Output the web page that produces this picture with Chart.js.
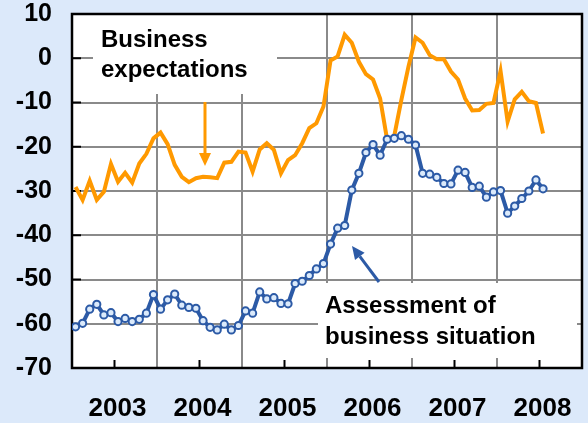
<!DOCTYPE html>
<html>
<head>
<meta charset="utf-8">
<script src="https://cdn.jsdelivr.net/npm/chart.js"></script>
<style>
  html, body { margin: 0; padding: 0; background: #dce9fa; }
  canvas { display: block; }
</style>
</head>
<body>
<canvas id="chart" width="588" height="423"></canvas>
<script>
const startYear = 2003;
const years = ['2003', '2004', '2005', '2006', '2007', '2008'];
const yTicks = [10, 0, -10, -20, -30, -40, -50, -60, -70];

// monthly balances, Jan 2003 - Jul 2008
const expectations = [
  -29.1, -32.0, -27.7, -32.0, -30.2, -23.9, -27.9, -25.9, -28.1, -23.8, -21.6, -18.1,
  -16.8, -19.4, -24.1, -26.8, -28.0, -27.1, -26.8, -26.9, -27.1, -23.6, -23.4, -21.1,
  -21.3, -25.6, -20.6, -19.2, -20.7, -26.0, -23.0, -21.9, -19.2, -15.8, -14.7, -10.9,
  -0.5, 0.4, 5.3, 3.5, -0.8, -3.6, -4.8, -9.1, -18.5, -17.5, -9.4, -1.9,
  4.7, 3.5, 0.7, -0.2, -0.2, -3.0, -4.8, -9.1, -11.8, -11.7, -10.3, -10.1,
  -2.9, -14.3, -9.3, -7.6, -9.7, -10.1, -17.0
];
const situation = [
  -60.7, -59.9, -56.7, -55.6, -58.0, -57.5, -59.5, -58.8, -59.5, -59.0, -57.6, -53.4,
  -56.7, -54.6, -53.3, -55.8, -56.3, -56.5, -59.3, -60.8, -61.4, -60.1, -61.4, -60.4,
  -57.1, -57.6, -52.8, -54.4, -54.1, -55.4, -55.5, -50.9, -50.4, -49.1, -47.6, -46.4,
  -42.0, -38.4, -37.8, -29.8, -26.0, -21.3, -19.5, -21.9, -18.3, -18.1, -17.5, -18.3,
  -19.6, -26.0, -26.2, -26.9, -28.3, -28.4, -25.3, -25.8, -29.2, -28.9, -31.4, -30.2,
  -29.9, -35.0, -33.4, -31.7, -30.0, -27.5, -29.5
];

const toPoints = (values) => values.map((v, i) => ({ x: startYear + (i + 0.5) / 12, y: v }));

// tick label padding would otherwise push the plot area in
const noEdgePadding = (s) => {
  s.paddingTop = 0;
  s.paddingBottom = 0;
  s.paddingLeft = 0;
  s.paddingRight = 0;
};

const drawArrow = (ctx, x1, y1, x2, y2, color) => {
  const ang = Math.atan2(y2 - y1, x2 - x1);
  const head = 13, half = 6;
  const bx = x2 - head * Math.cos(ang), by = y2 - head * Math.sin(ang);
  ctx.strokeStyle = color;
  ctx.fillStyle = color;
  ctx.lineWidth = 3;
  ctx.beginPath();
  ctx.moveTo(x1, y1);
  ctx.lineTo(bx, by);
  ctx.stroke();
  ctx.beginPath();
  ctx.moveTo(x2, y2);
  ctx.lineTo(bx + half * Math.sin(ang), by - half * Math.cos(ang));
  ctx.lineTo(bx - half * Math.sin(ang), by + half * Math.cos(ang));
  ctx.closePath();
  ctx.fill();
}

const frame = {
  id: 'frame',
  beforeDraw(chart) {
    const { ctx, chartArea: a } = chart;
    ctx.save();
    ctx.fillStyle = '#fff';
    ctx.fillRect(a.left, a.top, a.right - a.left, a.bottom - a.top);
    ctx.restore();
  },
  beforeDatasetsDraw(chart) {
    const { ctx, chartArea: a, scales } = chart;
    ctx.save();
    // label boxes cover the grid
    ctx.fillStyle = '#fff';
    ctx.fillRect(93, a.top + 1, 184, 79);
    ctx.fillRect(318, 283, 259, 75);

    ctx.fillStyle = '#000';
    ctx.font = 'bold 24px "Liberation Sans", Arial, sans-serif';
    ctx.textBaseline = 'alphabetic';
    ctx.fillText('Business', 101, 47);
    ctx.fillText('expectations', 101, 77);
    ctx.fillText('Assessment of', 325, 313);
    ctx.fillText('business situation', 325, 344);

    drawArrow(ctx, 205, 102, 205, 166, '#ff9900');
    drawArrow(ctx, 379, 282, 352, 246, '#2c5aa6');

    // inner tick marks
    ctx.strokeStyle = '#000';
    ctx.lineWidth = 2;
    yTicks.forEach(v => {
      const y = scales.y.getPixelForValue(v);
      ctx.beginPath();
      ctx.moveTo(a.left, y);
      ctx.lineTo(a.left + 9, y);
      ctx.stroke();
    });
    years.forEach((_, i) => {
      const x = scales.x.getPixelForValue(startYear + i + 0.5);
      ctx.beginPath();
      ctx.moveTo(x, a.bottom);
      ctx.lineTo(x, a.bottom - 8);
      ctx.stroke();
    });
    ctx.lineWidth = 2.5;
    ctx.strokeRect(a.left, a.top, a.right - a.left, a.bottom - a.top);
    ctx.restore();
  }
};

new Chart(document.getElementById('chart'), {
  type: 'line',
  data: {
    datasets: [
      {
        label: 'Assessment of business situation',
        data: toPoints(situation),
        borderColor: '#2c5aa6',
        borderWidth: 4,
        pointRadius: 3.6,
        pointBorderWidth: 2,
        pointBackgroundColor: '#dbeafb',
        pointBorderColor: '#2c5aa6',
        tension: 0
      },
      {
        label: 'Business expectations',
        data: toPoints(expectations),
        borderColor: '#ff9900',
        borderWidth: 4,
        pointRadius: 0,
        tension: 0
      }
    ]
  },
  options: {
    responsive: false,
    animation: false,
    layout: { padding: { top: 14, right: 2, left: 0, bottom: 0 } },
    plugins: { legend: { display: false }, tooltip: { enabled: false } },
    scales: {
      x: {
        type: 'linear',
        min: startYear,
        max: startYear + years.length,
        afterFit: (s) => { s.height = 55; noEdgePadding(s); },
        border: { display: false },
        grid: {
          drawTicks: false,
          lineWidth: 2,
          color: (c) => (c.tick && c.tick.value % 1 === 0) ? '#8a8a8a' : 'rgba(0,0,0,0)'
        },
        ticks: {
          stepSize: 0.5,
          autoSkip: false,
          maxRotation: 0,
          padding: 28,
          labelOffset: 3,
          color: '#000',
          font: { family: '"Liberation Sans", Arial, sans-serif', size: 26, weight: 'bold', lineHeight: 1 },
          callback: (v) => (v % 1 ? years[Math.floor(v) - startYear] : '')
        }
      },
      y: {
        min: -70,
        max: 10,
        afterFit: (s) => { s.width = 72; noEdgePadding(s); },
        border: { display: false },
        grid: { drawTicks: false, lineWidth: 2, color: '#8a8a8a' },
        ticks: {
          stepSize: 10,
          padding: 20,
          color: '#000',
          font: { family: '"Liberation Sans", Arial, sans-serif', size: 25, weight: 'bold', lineHeight: 1 }
        }
      }
    }
  },
  plugins: [frame]
});
</script>
</body>
</html>
